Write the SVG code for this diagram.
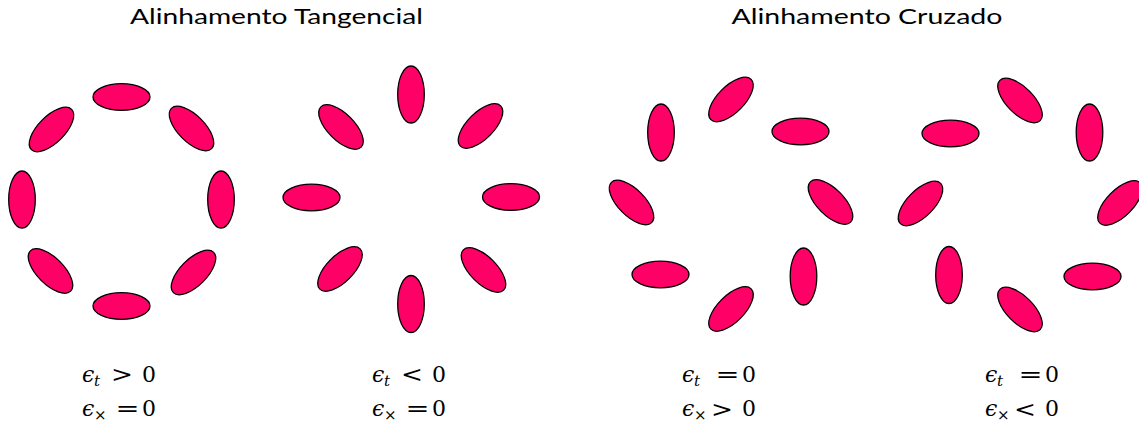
<svg xmlns="http://www.w3.org/2000/svg" width="1139" height="425" viewBox="0 0 1139 425">
<style>
.bg{fill:#fff}
.e{fill:#ff0066;stroke:#000;stroke-width:1.3}
.title{font-family:"Lato","Open Sans",sans-serif;font-size:22px;fill:#000}
.m{font-family:"DejaVu Serif","Liberation Serif",serif;font-size:22px;fill:#000}
.r{font-family:"DejaVu Serif","Liberation Serif",serif;font-size:23px;fill:#000;text-anchor:middle}
.i{font-style:italic}
.s{font-family:"DejaVu Serif","Liberation Serif",serif;font-size:15px;fill:#000}
</style>
<defs>
<ellipse id="el" class="e" cx="0" cy="0" rx="28.5" ry="13.3"/>
</defs>
<rect class="bg" x="0" y="0" width="1139" height="425"/>
<g id="titles">
<text class="title" x="276.5" y="24" text-anchor="middle" textLength="293" lengthAdjust="spacingAndGlyphs">Alinhamento Tangencial</text>
<text class="title" x="867" y="24" text-anchor="middle" textLength="271" lengthAdjust="spacingAndGlyphs">Alinhamento Cruzado</text>
</g>
<g id="panel-tangential-positive">
<use href="#el" transform="translate(121.5,97)"/>
<use href="#el" transform="translate(191.5,128.5) rotate(45)"/>
<use href="#el" transform="translate(221,199.5) rotate(90)"/>
<use href="#el" transform="translate(193.5,272.5) rotate(-45)"/>
<use href="#el" transform="translate(121.5,306)"/>
<use href="#el" transform="translate(50.5,271) rotate(45)"/>
<use href="#el" transform="translate(22,199.5) rotate(90)"/>
<use href="#el" transform="translate(51.5,129.5) rotate(-45)"/>
</g>
<g id="panel-tangential-negative">
<use href="#el" transform="translate(411,94.5) rotate(90)"/>
<use href="#el" transform="translate(480.5,126) rotate(-45)"/>
<use href="#el" transform="translate(511,197)"/>
<use href="#el" transform="translate(483.5,270) rotate(45)"/>
<use href="#el" transform="translate(411,304) rotate(90)"/>
<use href="#el" transform="translate(340,269) rotate(-45)"/>
<use href="#el" transform="translate(311.5,197.5)"/>
<use href="#el" transform="translate(341,127) rotate(45)"/>
</g>
<g id="panel-cross-positive">
<use href="#el" transform="translate(731,99.5) rotate(-45)"/>
<use href="#el" transform="translate(800.5,131.5)"/>
<use href="#el" transform="translate(830.5,202) rotate(45)"/>
<use href="#el" transform="translate(803.5,276.5) rotate(90)"/>
<use href="#el" transform="translate(731,309) rotate(-45)"/>
<use href="#el" transform="translate(660.5,274.5)"/>
<use href="#el" transform="translate(631.5,202.5) rotate(45)"/>
<use href="#el" transform="translate(661,132.5) rotate(90)"/>
</g>
<g id="panel-cross-negative">
<use href="#el" transform="translate(1020,100.5) rotate(45)"/>
<use href="#el" transform="translate(1089.5,132.5) rotate(90)"/>
<use href="#el" transform="translate(1120,203) rotate(-45)"/>
<use href="#el" transform="translate(1092.5,276.5)"/>
<use href="#el" transform="translate(1020,309.5) rotate(45)"/>
<use href="#el" transform="translate(949,275) rotate(90)"/>
<use href="#el" transform="translate(920.5,203.5) rotate(-45)"/>
<use href="#el" transform="translate(950.5,133.5)"/>
</g>
<g id="label-1">
<text class="m i" x="82" y="381.5">ϵ</text><text class="s i" x="94" y="386">t</text><text class="r" x="122" y="382" textLength="22" lengthAdjust="spacingAndGlyphs">&gt;</text><text class="m" x="142" y="381.5">0</text>
<text class="m i" x="82" y="416">ϵ</text><text class="s" x="94" y="420">×</text><text class="r" x="127.5" y="416" textLength="24" lengthAdjust="spacingAndGlyphs">=</text><text class="m" x="142" y="416">0</text>
</g>
<g id="label-2" transform="translate(290,0)">
<text class="m i" x="82" y="381.5">ϵ</text><text class="s i" x="94" y="386">t</text><text class="r" x="122" y="382" textLength="22" lengthAdjust="spacingAndGlyphs">&lt;</text><text class="m" x="142" y="381.5">0</text>
<text class="m i" x="82" y="416">ϵ</text><text class="s" x="94" y="420">×</text><text class="r" x="127.5" y="416" textLength="24" lengthAdjust="spacingAndGlyphs">=</text><text class="m" x="142" y="416">0</text>
</g>
<g id="label-3" transform="translate(600,0)">
<text class="m i" x="82" y="381.5">ϵ</text><text class="s i" x="94" y="386">t</text><text class="r" x="127.5" y="382" textLength="24" lengthAdjust="spacingAndGlyphs">=</text><text class="m" x="142" y="381.5">0</text>
<text class="m i" x="82" y="416">ϵ</text><text class="s" x="94" y="420">×</text><text class="r" x="122" y="416.5" textLength="22" lengthAdjust="spacingAndGlyphs">&gt;</text><text class="m" x="142" y="416">0</text>
</g>
<g id="label-4" transform="translate(903,0)">
<text class="m i" x="82" y="381.5">ϵ</text><text class="s i" x="94" y="386">t</text><text class="r" x="127.5" y="382" textLength="24" lengthAdjust="spacingAndGlyphs">=</text><text class="m" x="142" y="381.5">0</text>
<text class="m i" x="82" y="416">ϵ</text><text class="s" x="94" y="420">×</text><text class="r" x="122" y="416.5" textLength="22" lengthAdjust="spacingAndGlyphs">&lt;</text><text class="m" x="142" y="416">0</text>
</g>
</svg>
